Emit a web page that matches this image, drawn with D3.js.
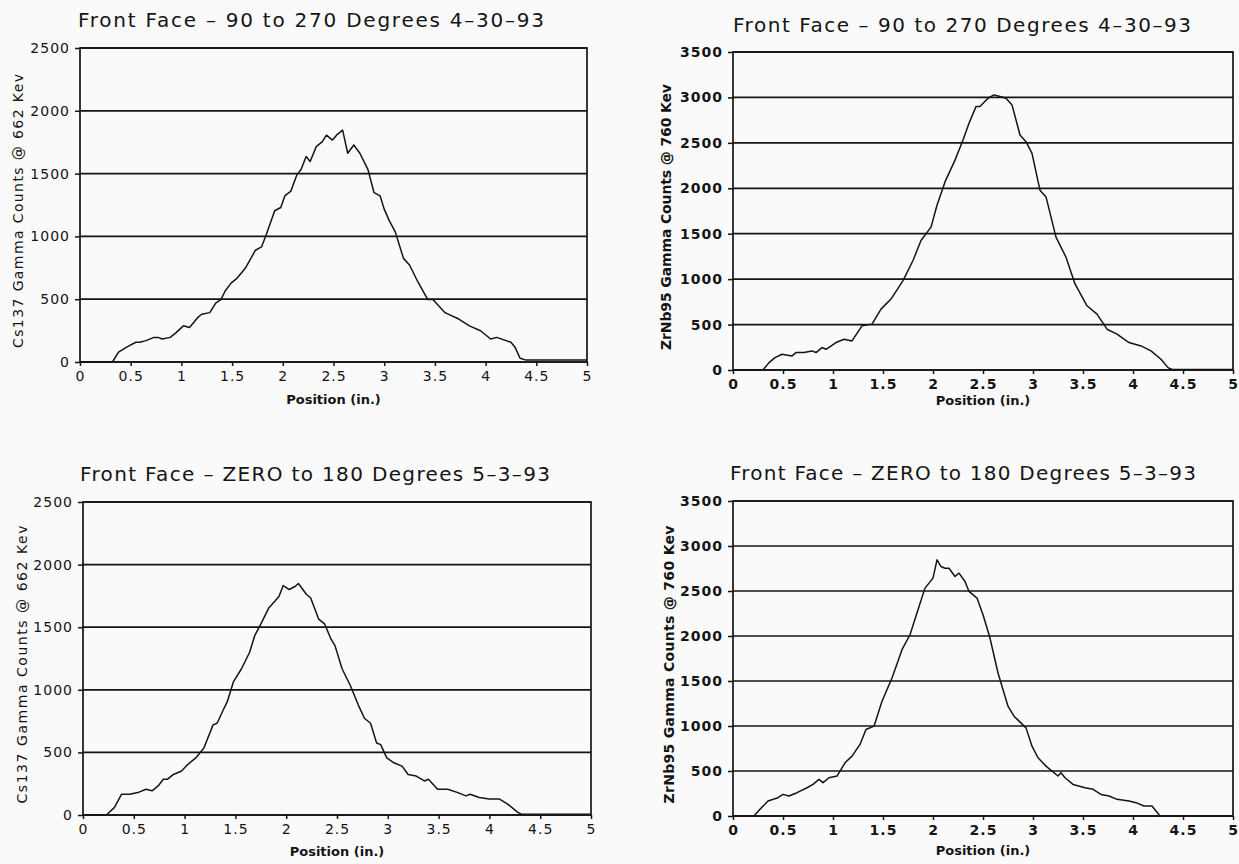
<!DOCTYPE html>
<html>
<head>
<meta charset="utf-8">
<script src="https://cdn.jsdelivr.net/npm/d3@7/dist/d3.min.js"></script>
<style>
  body { margin: 0; background: #fafafa; }
  svg { display: block; }
</style>
</head>
<body>
<svg id="chart" width="1239" height="864"></svg>
<script>
// Position axis ticks (inches), shared by all four plots
var positionTicks = [0, 0.5, 1, 1.5, 2, 2.5, 3, 3.5, 4, 4.5, 5];

// Count axis ticks
var cs137Ticks = [0, 500, 1000, 1500, 2000, 2500];
var zrnb95Ticks = [0, 500, 1000, 1500, 2000, 2500, 3000, 3500];

// Plot titles
var titleTop = 'Front Face \u2013 90 to 270 Degrees 4\u201330\u201393';
var titleBottom = 'Front Face \u2013 ZERO to 180 Degrees 5\u20133\u201393';

// Axis names
var cs137Label = 'Cs137 Gamma Counts @ 662 Kev';
var zrnb95Label = 'ZrNb95 Gamma Counts @ 760 Kev';
var positionLabel = 'Position (in.)';

// Scans: [position (in.), counts]
var cs137Scan90 = [[0,0],[0.32,0],[0.38,79],[0.46,118],[0.55,157],[0.59,157],[0.65,170],[0.73,196],[0.77,196],
  [0.81,183],[0.89,196],[0.95,236],[1.02,288],[1.08,275],[1.16,353],[1.20,380],[1.28,393],[1.34,471],[1.39,497],
  [1.43,563],[1.49,628],[1.55,668],[1.63,746],[1.73,890],[1.79,916],[1.84,1021],[1.92,1204],[1.98,1230],
  [2.02,1322],[2.08,1361],[2.14,1492],[2.18,1532],[2.23,1636],[2.27,1597],[2.33,1715],[2.39,1754],[2.43,1806],
  [2.49,1767],[2.53,1806],[2.59,1846],[2.64,1662],[2.70,1728],[2.76,1662],[2.84,1532],[2.90,1348],[2.96,1322],
  [3.00,1217],[3.05,1126],[3.11,1034],[3.19,825],[3.25,772],[3.33,641],[3.43,497],[3.48,497],[3.60,393],
  [3.74,340],[3.84,288],[3.95,249],[4.05,183],[4.11,196],[4.25,157],[4.29,118],[4.34,30],[4.40,15],[5,15]];

var zrnb95Scan90 = [[0,0],[0.30,0],[0.36,81],[0.42,136],[0.49,173],[0.59,155],[0.63,192],[0.71,192],[0.79,210],
  [0.83,192],[0.89,247],[0.93,228],[1.03,302],[1.11,339],[1.19,320],[1.29,486],[1.39,505],[1.48,670],[1.58,781],
  [1.70,984],[1.80,1205],[1.88,1426],[1.98,1573],[2.04,1813],[2.12,2070],[2.22,2310],[2.30,2531],[2.36,2715],
  [2.43,2899],[2.47,2899],[2.55,2991],[2.61,3028],[2.67,3010],[2.73,2991],[2.79,2918],[2.87,2586],[2.93,2513],
  [2.99,2384],[3.07,1978],[3.13,1905],[3.23,1463],[3.33,1241],[3.42,947],[3.54,707],[3.64,615],[3.74,449],
  [3.84,394],[3.96,302],[4.08,265],[4.18,210],[4.28,118],[4.35,26],[4.39,5],[5,5]];

var cs137Scan0 = [[0,0],[0.23,0],[0.31,61],[0.38,166],[0.46,166],[0.54,179],[0.62,206],[0.68,193],[0.74,232],
  [0.79,285],[0.83,285],[0.89,324],[0.97,351],[1.03,403],[1.11,456],[1.19,535],[1.28,720],[1.32,733],[1.38,839],
  [1.42,905],[1.48,1063],[1.56,1168],[1.64,1300],[1.69,1432],[1.75,1524],[1.83,1656],[1.89,1709],[1.93,1748],
  [1.97,1833],[2.03,1801],[2.09,1827],[2.12,1849],[2.20,1761],[2.24,1735],[2.32,1564],[2.38,1524],[2.44,1406],
  [2.48,1353],[2.55,1168],[2.63,1036],[2.71,878],[2.77,773],[2.83,733],[2.89,575],[2.93,562],[2.99,456],
  [3.06,417],[3.14,390],[3.20,324],[3.28,311],[3.36,272],[3.40,285],[3.49,206],[3.59,206],[3.69,179],[3.77,153],
  [3.81,166],[3.90,140],[4.00,127],[4.10,127],[4.18,87],[4.28,21],[4.32,5],[5,5]];

var zrnb95Scan0 = [[0,0],[0.21,0],[0.27,74],[0.35,166],[0.45,203],[0.50,240],[0.56,222],[0.64,259],[0.74,314],
  [0.80,351],[0.86,407],[0.90,370],[0.96,425],[1.04,444],[1.12,591],[1.19,665],[1.27,795],[1.33,961],[1.41,998],
  [1.49,1275],[1.59,1534],[1.69,1848],[1.77,2014],[1.85,2292],[1.92,2532],[2.00,2643],[2.04,2846],[2.08,2772],
  [2.12,2753],[2.16,2753],[2.22,2661],[2.26,2698],[2.32,2606],[2.36,2495],[2.44,2421],[2.50,2236],[2.57,1977],
  [2.65,1589],[2.75,1220],[2.81,1109],[2.93,979],[2.99,776],[3.05,647],[3.13,554],[3.19,499],[3.25,444],
  [3.28,480],[3.32,425],[3.40,351],[3.52,314],[3.60,296],[3.68,240],[3.76,222],[3.84,185],[3.96,166],[4.03,148],
  [4.11,111],[4.19,111],[4.27,0],[5,0]];

var svg = d3.select('#chart');
var ink = '#141414';
var font = 'DejaVu Sans, Liberation Sans, sans-serif';

// Layout of each plot (pixel boxes)
var panels = [
  { data: cs137Scan90, ticks: cs137Ticks, title: titleTop, yLabel: cs137Label, bold: false,
    left: 80, right: 587, top: 48, bottom: 362,
    titleX: 311, titleY: 27, titleLen: 466, labelX: 18, labelLen: 274, posY: 399 },
  { data: zrnb95Scan90, ticks: zrnb95Ticks, title: titleTop, yLabel: zrnb95Label, bold: true,
    left: 733, right: 1233, top: 52, bottom: 370,
    titleX: 962, titleY: 32, titleLen: 458, labelX: 666, labelLen: 266, posY: 400 },
  { data: cs137Scan0, ticks: cs137Ticks, title: titleBottom, yLabel: cs137Label, bold: false,
    left: 83, right: 591, top: 502, bottom: 815,
    titleX: 315, titleY: 481, titleLen: 470, labelX: 22, labelLen: 278, posY: 851 },
  { data: zrnb95Scan0, ticks: zrnb95Ticks, title: titleBottom, yLabel: zrnb95Label, bold: true,
    left: 733, right: 1233, top: 501, bottom: 816,
    titleX: 963, titleY: 480, titleLen: 466, labelX: 669, labelLen: 278, posY: 850 }
];

var drawPanel = function(p) {
  var x = d3.scaleLinear().domain([0, 5]).range([p.left, p.right]);
  var y = d3.scaleLinear().domain([0, d3.max(p.ticks)]).range([p.bottom, p.top]);
  var weight = p.bold ? 'bold' : 'normal';
  var g = svg.append('g');

  // horizontal grid lines at every count tick
  g.selectAll('.grid').data(p.ticks).enter()
    .append('line')
    .attr('class', 'grid')
    .attr('x1', p.left).attr('x2', p.right)
    .attr('y1', function(d) { return y(d); })
    .attr('y2', function(d) { return y(d); })
    .attr('stroke', ink)
    .attr('stroke-width', 1.7);

  // frame
  g.append('rect')
    .attr('x', p.left).attr('y', p.top)
    .attr('width', p.right - p.left).attr('height', p.bottom - p.top)
    .attr('fill', 'none')
    .attr('stroke', ink)
    .attr('stroke-width', 1.7);

  // axes
  var yAxis = d3.axisLeft(y)
    .tickValues(p.ticks)
    .tickSize(5)
    .tickPadding(5)
    .tickFormat(function(d) { return String(d); });
  var xAxis = d3.axisBottom(x)
    .tickValues(positionTicks)
    .tickSize(4)
    .tickPadding(5)
    .tickFormat(function(d) { return String(d); });

  var ya = g.append('g').attr('transform', 'translate(' + p.left + ',0)').call(yAxis);
  var xa = g.append('g').attr('transform', 'translate(0,' + p.bottom + ')').call(xAxis);
  [ya, xa].forEach(function(a) {
    a.select('.domain').remove();
    a.selectAll('line').attr('stroke', ink).attr('stroke-width', 1.5);
    a.selectAll('text')
      .attr('fill', ink)
      .style('font-family', font)
      .style('font-size', '14px')
      .style('font-weight', weight)
      .style('letter-spacing', '1px');
  });

  // scan curve
  var line = d3.line()
    .x(function(d) { return x(d[0]); })
    .y(function(d) { return y(d[1]); });
  g.append('path')
    .datum(p.data)
    .attr('d', line)
    .attr('fill', 'none')
    .attr('stroke', ink)
    .attr('stroke-width', 1.5)
    .attr('stroke-linejoin', 'round');

  // title
  g.append('text')
    .attr('x', p.titleX).attr('y', p.titleY)
    .attr('text-anchor', 'middle')
    .attr('textLength', p.titleLen)
    .attr('lengthAdjust', 'spacing')
    .attr('fill', ink)
    .style('font-family', font)
    .style('font-size', '20px')
    .text(p.title);

  // count axis name
  var cy = (p.top + p.bottom) / 2 + 6;
  g.append('text')
    .attr('transform', 'translate(' + p.labelX + ',' + cy + ') rotate(-90)')
    .attr('text-anchor', 'middle')
    .attr('dominant-baseline', 'central')
    .attr('textLength', p.labelLen)
    .attr('lengthAdjust', 'spacing')
    .attr('fill', ink)
    .style('font-family', font)
    .style('font-size', '14px')
    .style('font-weight', weight)
    .text(p.yLabel);

  // position axis name
  g.append('text')
    .attr('x', (p.left + p.right) / 2).attr('y', p.posY)
    .attr('text-anchor', 'middle')
    .attr('dominant-baseline', 'central')
    .attr('fill', ink)
    .style('font-family', font)
    .style('font-size', '13px')
    .style('font-weight', 'bold')
    .text(positionLabel);
};

panels.forEach(drawPanel);
</script>
</body>
</html>
